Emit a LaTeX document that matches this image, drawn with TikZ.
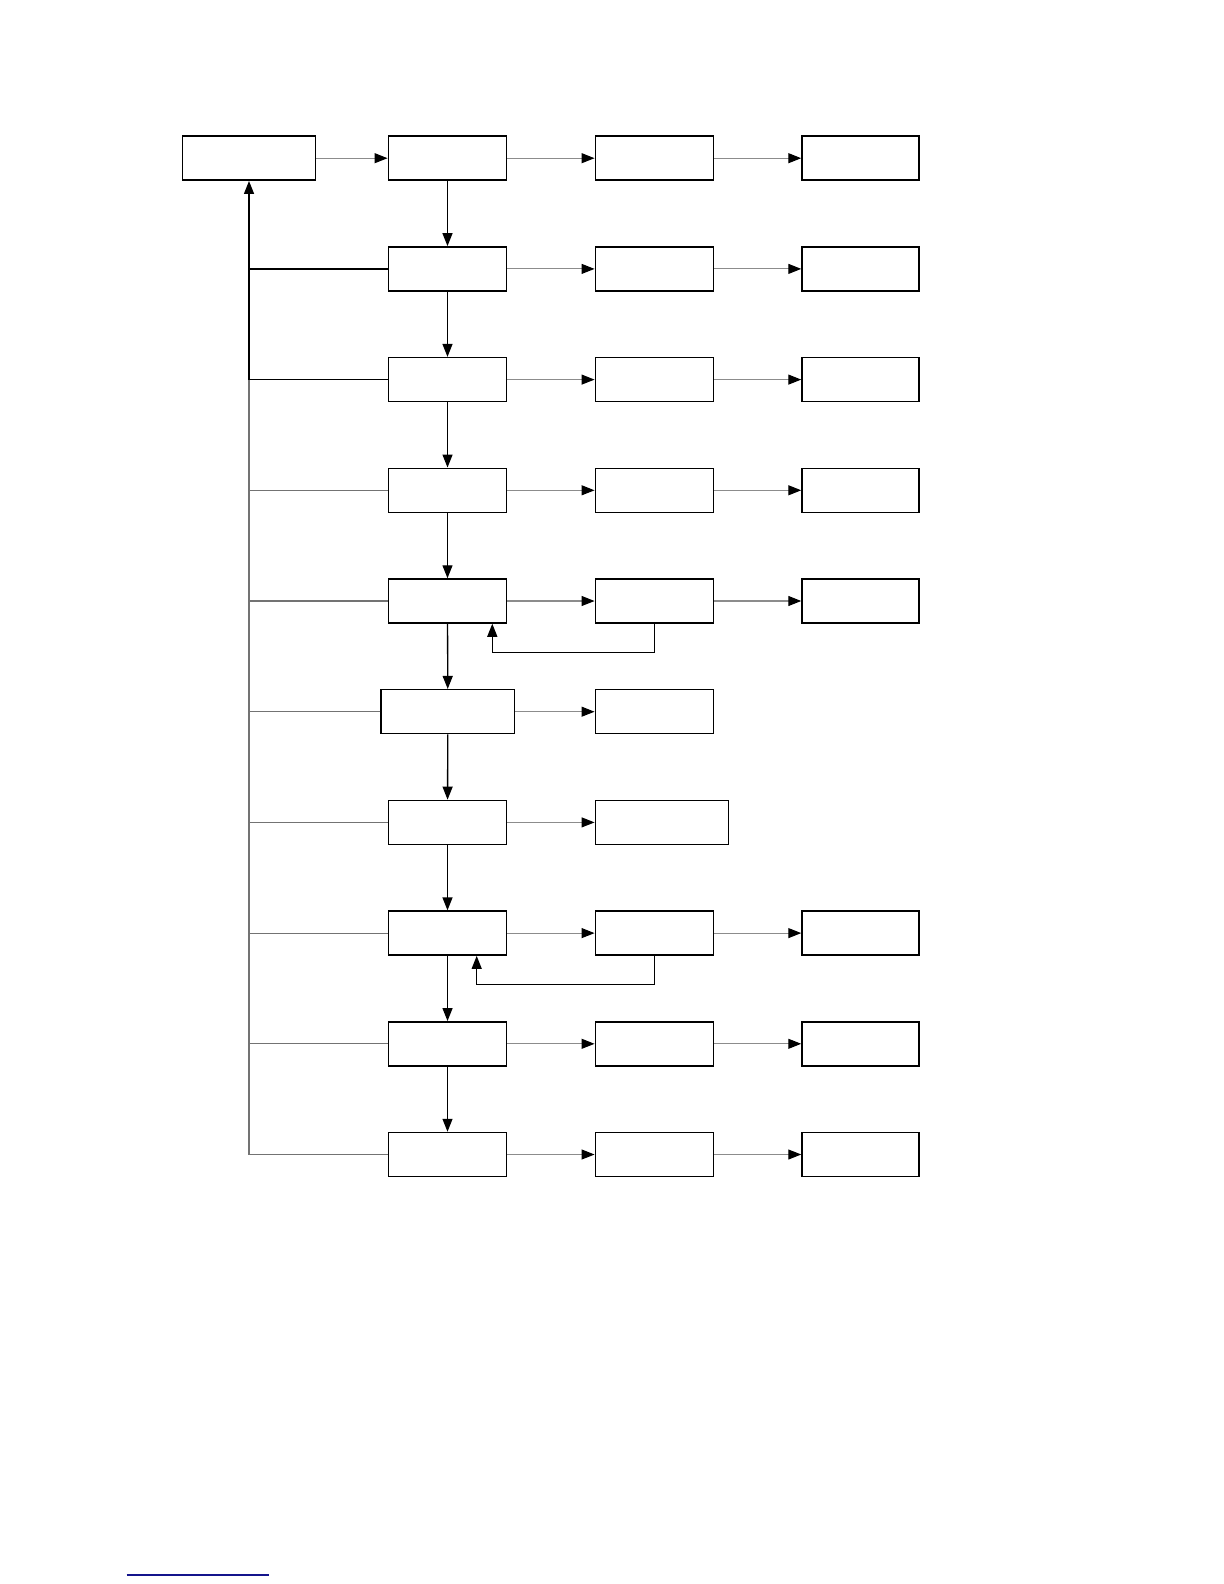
\documentclass[tikz,border=0pt]{standalone}
\usetikzlibrary{arrows.meta,calc}
\begin{document}
\begin{tikzpicture}[x=0.5pt,y=-0.5pt,
  blk/.style={draw=black,line width=0.75pt,inner sep=0pt,minimum height=22pt,minimum width=59.2pt,fill=white},
  wblk/.style={blk,minimum width=66.7pt},
  c4blk/.style={blk,minimum width=58.5pt},
  tip/.style={-{Triangle[length=6.5pt,width=5pt,color=black]}},
  harr/.style={tip,line width=0.55pt,draw=black!45},
  varr/.style={tip,line width=0.65pt,draw=black},
  fb/.style={line width=0.6pt,draw=black},
  fbg/.style={line width=0.55pt,draw=black!55}]
\useasboundingbox (0,0) rectangle (1224,1584);
% top box
\node[wblk] (t) at (249,158.2) {};
% column 2
\foreach \i in {1,...,10}{
  \pgfmathsetmacro\yy{158.2+110.7*(\i-1)}
  \ifnum\i=6
    \node[wblk] (b\i) at (447.8,\yy) {};
  \else
    \node[blk] (b\i) at (447.5,\yy) {};
  \fi
  \ifnum\i=7
    \node[wblk] (c\i) at (662,\yy) {};
  \else
    \node[blk] (c\i) at (654.5,\yy) {};
  \fi
}
% column 4
\foreach \i in {1,2,3,4,5,8,9,10}{
  \pgfmathsetmacro\yy{158.2+110.7*(\i-1)}
  \node[c4blk] (d\i) at (860.5,\yy) {};
}
% horizontal arrows
\draw[harr] (t) -- (b1);
\foreach \i in {1,...,10}{\draw[harr] (b\i) -- (c\i);}
\foreach \i in {1,2,3,4,5,8,9,10}{\draw[harr] (c\i) -- (d\i);}
% vertical arrows
\foreach \i/\j in {1/2,2/3,3/4,4/5,5/6,6/7,7/8,8/9,9/10}{\draw[varr] (b\i) -- (b\j);}
% left return line
\coordinate (L) at (t.south |- b10.west);
\draw[fb] (b2.west) -- (b2.west -| t.south);
\draw[fb] (b3.west) -- (b3.west -| t.south);
\foreach \i in {4,...,10}{\draw[fbg] (b\i.west) -- (b\i.west -| t.south);}
\draw[fbg] (L) -- (b3.west -| t.south);
\draw[varr] (b3.west -| t.south) -- (t.south);
% feedback loops
\coordinate (f5) at (492.3,652.3);
\coordinate (f8) at (476.7,984.6);
\draw[varr] (c5.south) |- (f5) -- (f5 |- b5.south);
\draw[varr] (c8.south) |- (f8) -- (f8 |- b8.south);
% footnote rule
\draw[line width=0.7pt,draw={rgb,255:red,20;green,20;blue,140}] (126.7,1575) -- (269,1575);
\end{tikzpicture}
\end{document}
